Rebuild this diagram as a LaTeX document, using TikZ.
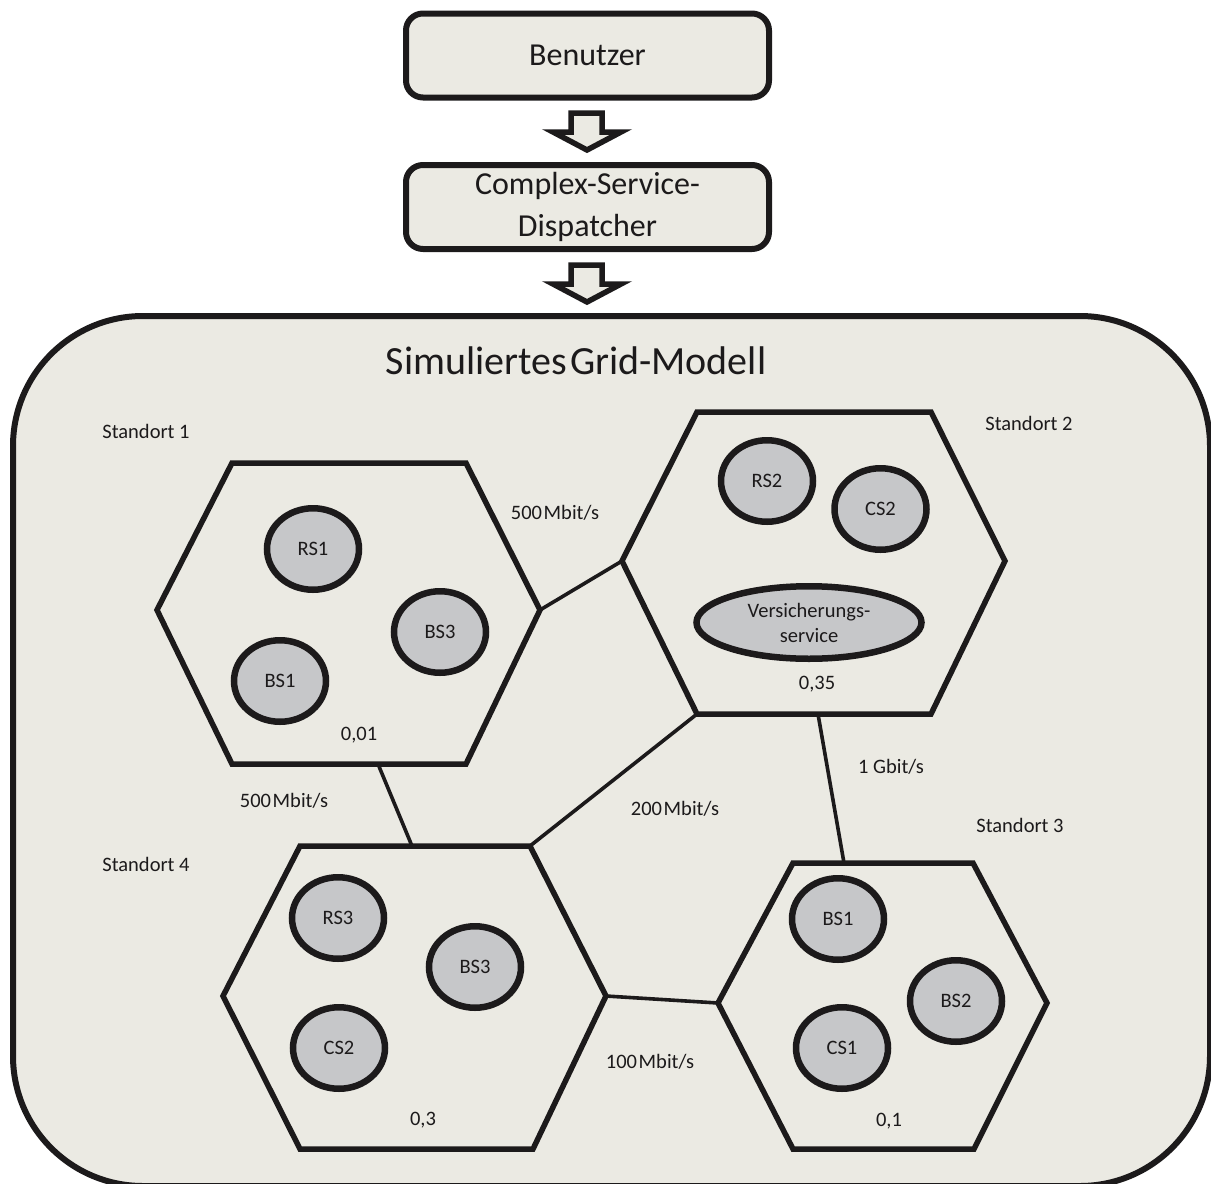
\documentclass[tikz,border=0pt]{standalone}
\usepackage{fontspec}
\setmainfont{Carlito}
\usetikzlibrary{shapes.geometric,calc}
\definecolor{panel}{HTML}{EBEAE3}
\definecolor{svc}{HTML}{C6C7C9}
\definecolor{ink}{HTML}{1C1A1B}
\newcommand{\nsp}{\hspace{0.08em}}
\tikzset{
  x=1pt,y=-1pt,
  topbox/.style={draw=ink,fill=panel,line width=6pt,rounded corners=17pt,minimum width=363pt,minimum height=84pt,inner sep=0pt,align=center,text=ink,font=\fontsize{32}{42}\selectfont},
  hexa/.style={draw=ink,fill=panel,line width=5.5pt,line join=miter},
  service/.style={ellipse,draw=ink,fill=svc,line width=6.5pt,minimum width=92pt,minimum height=81.5pt,inner sep=0pt,align=center,text=ink,font=\fontsize{20.5}{25}\selectfont},
  link/.style={draw=ink,line width=3.6pt},
  lbl/.style={text=ink,inner sep=0pt,align=center,font=\fontsize{20.5}{25}\selectfont},
  bigarrow/.style={draw=ink,fill=panel,line width=5.5pt,line join=miter},
}
\begin{document}
\begin{tikzpicture}
\useasboundingbox (0,0) rectangle (1211,1184);
\begin{scope}
\clip (0,0) rectangle (1211,1184);
\draw[draw=ink,fill=panel,line width=6pt,rounded corners=130pt] (13,316) rectangle (1210,1186);
\end{scope}
\node[text=ink,inner sep=0pt,font=\fontsize{40}{46}\selectfont] (title) at (576,361) {Simuliertes\nsp Grid-Modell};

\node[topbox] (user) at (587.5,55.5) {Benutzer};
\node[topbox] (csd) at (587.5,207) {Complex-Service-\\Dispatcher};
\draw[bigarrow] (571,113) -- (602,113) -- (602,132) -- (621,132) -- (587,150) -- (553,132) -- (571,132) -- cycle;
\draw[bigarrow] (571,265) -- (602,265) -- (602,284) -- (621,284) -- (587,302) -- (553,284) -- (571,284) -- cycle;

% corners of the four sites
\coordinate (a1) at (157,610); \coordinate (b1) at (232,463); \coordinate (c1) at (466,463);
\coordinate (d1) at (540,610); \coordinate (e1) at (466,764); \coordinate (f1) at (232,764);
\coordinate (a2) at (622,561); \coordinate (b2) at (697,412); \coordinate (c2) at (931,412);
\coordinate (d2) at (1005,561); \coordinate (e2) at (931,714); \coordinate (f2) at (697,714);
\coordinate (a3) at (718,1003); \coordinate (b3) at (793,863); \coordinate (c3) at (973,863);
\coordinate (d3) at (1047,1003); \coordinate (e3) at (974,1149); \coordinate (f3) at (793,1149);
\coordinate (a4) at (223,996); \coordinate (b4) at (300,846); \coordinate (c4) at (530,846);
\coordinate (d4) at (606,996); \coordinate (e4) at (533,1149); \coordinate (f4) at (300,1149);
\coordinate (p1) at (378,764); \coordinate (p4) at (412,846);
\coordinate (p2) at (818,714); \coordinate (p3) at (844,863);

\draw[link] (d1) -- (a2);
\draw[link] (p1) -- (p4);
\draw[link] (f2) -- (c4);
\draw[link] (p2) -- (p3);
\draw[link] (d4) -- (a3);

\draw[hexa] (a1)--(b1)--(c1)--(d1)--(e1)--(f1)--cycle;
\draw[hexa] (a2)--(b2)--(c2)--(d2)--(e2)--(f2)--cycle;
\draw[hexa] (a3)--(b3)--(c3)--(d3)--(e3)--(f3)--cycle;
\draw[hexa] (a4)--(b4)--(c4)--(d4)--(e4)--(f4)--cycle;

\node[service] (rs1) at (313,549) {RS1};
\node[service] (bs3a) at (440,632) {BS3};
\node[service] (bs1a) at (280,681) {BS1};
\node[service] (rs2) at (767,481) {RS2};
\node[service] (cs2a) at (880.5,509) {CS2};
\node[service,minimum width=225pt,minimum height=72.5pt] (vers) at (809,622.5) {Versicherungs-\\service};
\node[service] (rs3) at (338,918) {RS3};
\node[service] (bs3b) at (475,967) {BS3};
\node[service] (cs2b) at (339,1048) {CS2};
\node[service] (bs1b) at (838,919) {BS1};
\node[service] (bs2) at (956,1001) {BS2};
\node[service] (cs1) at (842,1048) {CS1};

\node[lbl] (s1) at (146,431) {Standort 1};
\node[lbl] (s2) at (1029,423) {Standort 2};
\node[lbl] (s3) at (1020,825) {Standort 3};
\node[lbl] (s4) at (146,864) {Standort 4};
\node[lbl] (w1) at (359,735) {0,01};
\node[lbl] (w2) at (817,684) {0,35};
\node[lbl] (w3) at (889,1121) {0,1};
\node[lbl] (w4) at (423,1120) {0,3};
\node[lbl] (l1) at (555,513) {500\nsp Mbit/s};
\node[lbl] (l2) at (284,801) {500\nsp Mbit/s};
\node[lbl] (l3) at (675,809) {200\nsp Mbit/s};
\node[lbl] (l4) at (891,767) {1 Gbit/s};
\node[lbl] (l5) at (650,1062) {100\nsp Mbit/s};
\end{tikzpicture}
\end{document}
